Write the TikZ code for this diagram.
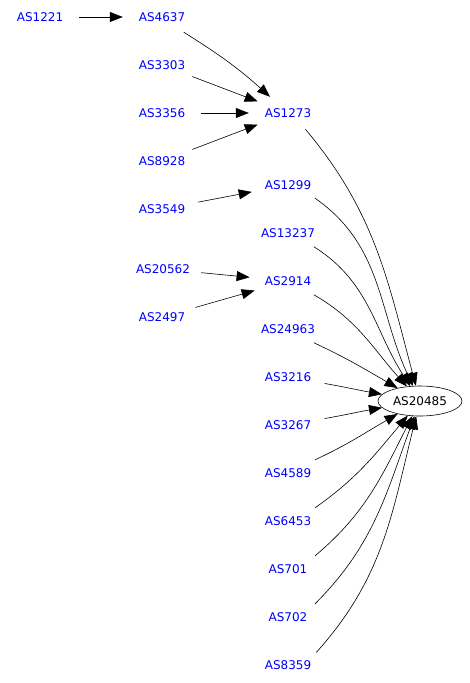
\documentclass[tikz,border=0pt]{standalone}
\usepackage{fontspec}
\setmainfont{DejaVu Sans}
\usetikzlibrary{arrows.meta,shapes.geometric}

\begin{document}
\begin{tikzpicture}[
    x=1pt, y=1pt,
    asn/.style={ellipse, minimum width=78pt, minimum height=36pt, inner sep=0pt, text=blue, font=\fontsize{12}{14}\selectfont},
    hub/.style={ellipse, draw, line width=0.6pt, minimum width=84pt, minimum height=30pt, inner sep=0pt, font=\fontsize{12}{14}\selectfont},
    link/.style={-{Triangle[length=13pt,width=10pt]}, line width=0.6pt}
  ]
  \useasboundingbox (0,0) rectangle (469,-683);
  \node[asn] (as1221) at (40,-17) {AS1221};
  \node[asn] (as4637) at (162,-17) {AS4637};
  \node[asn] (as3303) at (162,-65) {AS3303};
  \node[asn] (as3356) at (162,-113) {AS3356};
  \node[asn] (as8928) at (162,-161) {AS8928};
  \node[asn] (as3549) at (162,-209) {AS3549};
  \node[asn] (as20562) at (163,-269) {AS20562};
  \node[asn] (as2497) at (162,-317) {AS2497};
  \node[asn] (as1273) at (288,-113) {AS1273};
  \node[asn] (as1299) at (288,-185) {AS1299};
  \node[asn] (as13237) at (288,-233) {AS13237};
  \node[asn] (as2914) at (288,-281) {AS2914};
  \node[asn] (as24963) at (288,-329) {AS24963};
  \node[asn] (as3216) at (288,-377) {AS3216};
  \node[asn] (as3267) at (288,-425) {AS3267};
  \node[asn] (as4589) at (288,-473) {AS4589};
  \node[asn] (as6453) at (288,-521) {AS6453};
  \node[asn] (as701) at (288,-569) {AS701};
  \node[asn] (as702) at (288,-617) {AS702};
  \node[asn] (as8359) at (288,-665) {AS8359};
  \node[hub] (as20485) at (420,-401) {AS20485};

  \draw[link] (as1221) -- (as4637);
  \draw[link] (as4637.-35) to[out=-32, in=138] (as1273);
  \draw[link] (as3303) -- (as1273);
  \draw[link] (as3356) -- (as1273);
  \draw[link] (as8928) -- (as1273);
  \draw[link] (as3549) -- (as1299);
  \draw[link] (as20562) -- (as2914);
  \draw[link] (as2497) -- (as2914);

  \draw[link] (as1273.-43) to[out=-50, in=105] (as20485);
  \draw[link] (as1299.-26) to[out=-35, in=115] (as20485);
  \draw[link] (as13237.-28) to[out=-32, in=123] (as20485);
  \draw[link] (as2914.-28) to[out=-30, in=132] (as20485);
  \draw[link] (as24963.-28) to[out=-25, in=150] (as20485);
  \draw[link] (as3216.-10) to[out=-10, in=170] (as20485);
  \draw[link] (as3267.10) to[out=10, in=190] (as20485);
  \draw[link] (as4589.26) to[out=25, in=210] (as20485);
  \draw[link] (as6453.26) to[out=35, in=230] (as20485);
  \draw[link] (as701.26) to[out=40, in=243] (as20485);
  \draw[link] (as702.26) to[out=45, in=250] (as20485);
  \draw[link] (as8359.24) to[out=48, in=256] (as20485);
\end{tikzpicture}
\end{document}
